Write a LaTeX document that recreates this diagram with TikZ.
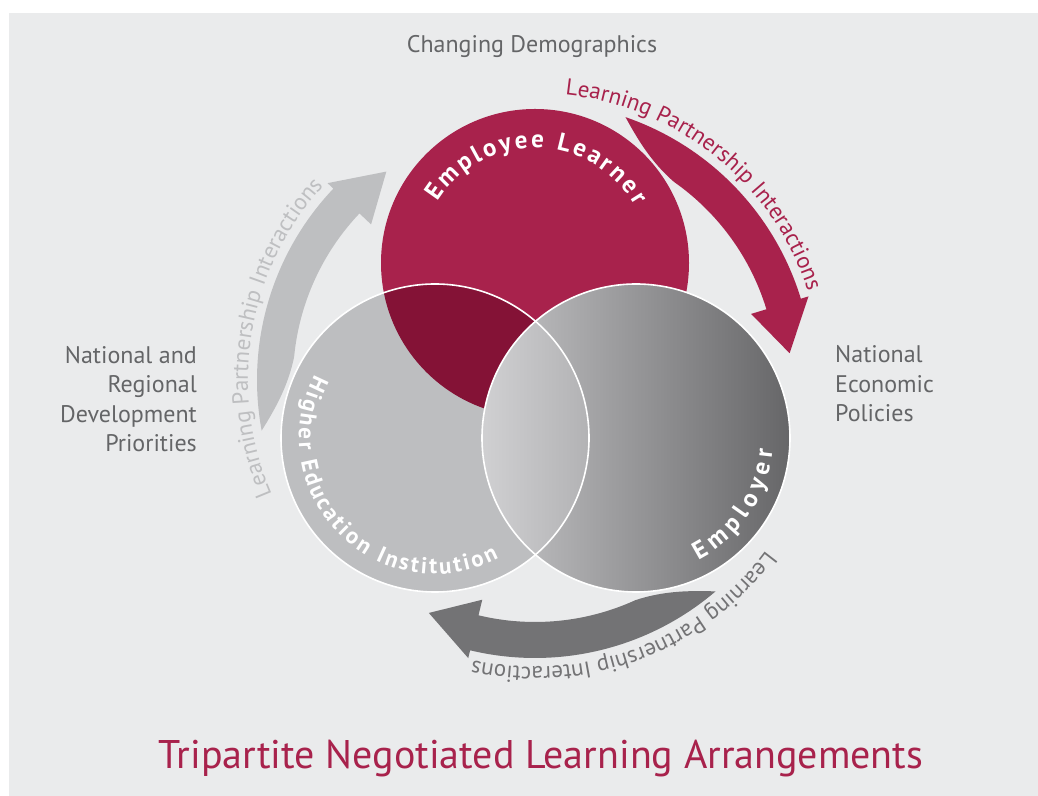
\documentclass[tikz,border=0pt]{standalone}
\usepackage{fontspec}
\setmainfont{PT Sans}
\usetikzlibrary{decorations.text,positioning}
\definecolor{elred}{RGB}{168,34,76}
\definecolor{elredd}{RGB}{132,18,54}
\definecolor{bggrey}{RGB}{234,235,236}
\definecolor{heigrey}{RGB}{189,190,192}
\definecolor{lpigrey}{RGB}{190,191,193}
\definecolor{lpidark}{RGB}{115,115,117}
\definecolor{txtgrey}{RGB}{100,101,103}
\tikzset{
  sidetxt/.style={font=\fontsize{24bp}{29.5bp}\selectfont, text=txtgrey, inner sep=0pt},
  ringtxt/.style={decorate, decoration={text along path, text align=fit to path}},
  whiterim/.style={draw=white, line width=1.6bp}
}
\newcommand{\ringfont}{\bfseries\fontsize{25bp}{29bp}\selectfont}
\newcommand{\heifont}{\bfseries\fontsize{23bp}{27bp}\selectfont}
\newcommand{\lpifont}{\fontsize{23bp}{27bp}\selectfont}

\begin{document}
\begin{tikzpicture}[x=1bp, y=1bp]
    \useasboundingbox (0, 0) rectangle (1038, 796);
    \fill[bggrey] (9, 0) rectangle (1038, 783);
    \coordinate (ctr) at (535, 416);
    \coordinate (el) at (535, 533);
    \coordinate (hei) at (435, 358);
    \coordinate (emp) at (636, 358);
    % curved arrows with their labels
    \foreach \rot/\col in {0/elred, 119.5/lpigrey, 239.5/lpidark} {
        \begin{scope}[shift={(ctr)}, rotate=\rot]
            \fill[\col] (71:278) arc[start angle=71, end angle=17, radius=278]
                -- (17:286) -- (6:256) -- (17:226) -- (17:242)
                arc[start angle=17, end angle=55, radius=242]
                .. controls (62:247) and (67:262) .. cycle;
            \path[ringtxt, decoration={text color=\col, text={|\lpifont|Learning Partnership Interactions}}]
                (84:287) arc[start angle=84, end angle=18, radius=287];
        \end{scope}
    }
    % the three circles
    \fill[elred] (el) circle[radius=154];
    \fill[heigrey] (hei) circle[radius=154];
    \begin{scope}
        \clip (hei) circle[radius=154];
        \fill[elredd] (el) circle[radius=154];
    \end{scope}
    \shade[left color={rgb,255:red,198;green,198;blue,200}, right color={rgb,255:red,102;green,102;blue,104}] (emp) circle[radius=154];
    \begin{scope}
        \clip (hei) circle[radius=154];
        \shade[left color={rgb,255:red,208;green,208;blue,210}, right color={rgb,255:red,122;green,122;blue,124}] (emp) circle[radius=154];
    \end{scope}
    \draw[whiterim] (hei) circle[radius=154];
    \draw[whiterim] (emp) circle[radius=154];
    % circle labels
    \begin{scope}[shift={(el)}]
        \path[ringtxt, decoration={text color=white, text={|\ringfont|Employee Learner}}]
            (148:115) arc[start angle=148, end angle=30, radius=115];
    \end{scope}
    \begin{scope}[shift={(hei)}]
        \path[ringtxt, decoration={text color=white, text={|\heifont|Higher Education Institution}}]
            (152:136) arc[start angle=152, end angle=298, radius=136];
    \end{scope}
    \begin{scope}[shift={(emp)}]
        \path[ringtxt, decoration={text color=white, text={|\ringfont|Employer}}]
            (297:137) arc[start angle=297, end angle=355, radius=137];
    \end{scope}
    % outer texts
    \node[sidetxt] (demog) at (532, 749) {Changing Demographics};
    \node[sidetxt, align=right, anchor=east] (natreg) at (197, 397) {National and\\Regional\\Development\\Priorities};
    \node[sidetxt, align=left, anchor=west] (natecon) at (835, 412) {National\\Economic\\Policies};
    \node[font=\fontsize{40bp}{46bp}\selectfont, text=elred, inner sep=0pt, anchor=base] (title) at (541, 27) {Tripartite Negotiated Learning Arrangements};
\end{tikzpicture}
\end{document}
